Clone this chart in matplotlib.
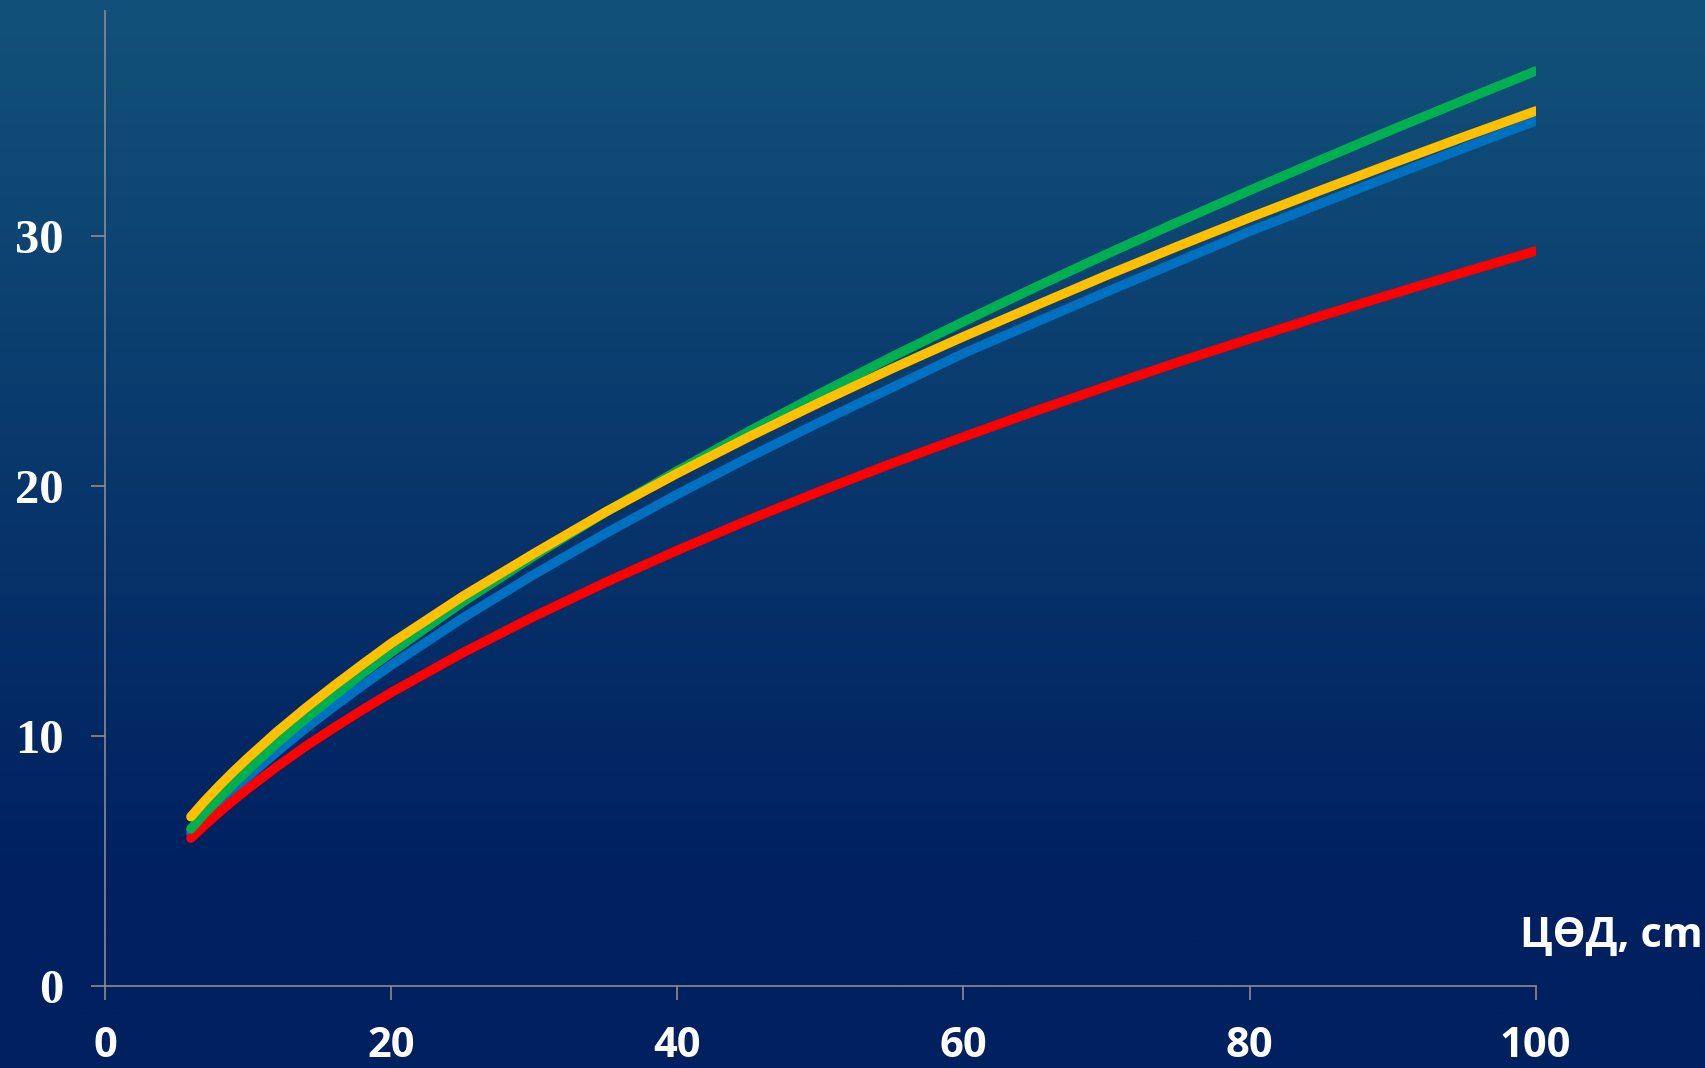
import numpy as np
import matplotlib
matplotlib.use("Agg")
import matplotlib.pyplot as plt

# values
x = [6, 7, 8, 9, 10, 12, 14, 16, 18, 20, 25, 30, 35, 40, 45, 50,
     55, 60, 65, 70, 75, 80, 85, 90, 95, 100]
green = [6.27, 6.91, 7.51, 8.09, 8.64, 9.69, 10.67, 11.60, 12.49, 13.34, 15.35, 17.20, 18.95,
         20.60, 22.18, 23.70, 25.16, 26.57, 27.94, 29.27, 30.56, 31.82, 33.05, 34.26, 35.44, 36.6]
yellow = [6.76, 7.41, 8.01, 8.58, 9.12, 10.15, 11.10, 12.00, 12.86, 13.70, 15.58, 17.30, 18.96,
          20.50, 21.96, 23.35, 24.69, 25.97, 27.20, 28.42, 29.59, 30.73, 31.83, 32.91, 33.97, 35.0]
blue = [6.10, 6.71, 7.28, 7.83, 8.36, 9.35, 10.29, 11.17, 12.01, 12.82, 14.71, 16.46, 18.10,
        19.66, 21.14, 22.56, 23.93, 25.30, 26.53, 27.76, 28.97, 30.18, 31.30, 32.42, 33.52, 34.6]
red = [5.90, 6.44, 6.95, 7.43, 7.89, 8.76, 9.57, 10.32, 11.04, 11.73, 13.32, 14.78, 16.14,
       17.42, 18.64, 19.79, 20.90, 21.96, 22.99, 23.98, 24.95, 25.88, 26.80, 27.68, 28.55, 29.4]

xticks = [0, 20, 40, 60, 80, 100]
yticks = [0, 10, 20, 30]
xlabel = "ЦӨД, cm"

W, H = 1706, 1068
fig = plt.figure(figsize=(W / 100, H / 100), dpi=100)

# gradient background
bg = fig.add_axes([0, 0, 1, 1])
bg.axis("off")
top = np.array([18, 82, 122]) / 255
bot = np.array([0, 32, 96]) / 255
t = np.clip(np.linspace(0, 1, 400) / 0.82, 0, 1)[:, None]
grad = top * (1 - t) + bot * t
bg.imshow(grad[:, None, :], aspect="auto", extent=[0, 1, 0, 1])
bg.set_xlim(0, 1)
bg.set_ylim(0, 1)

ax = fig.add_axes([105 / W, 1 - 985.7 / H, (1535.7 - 105) / W, (985.7 - 11) / H])
ax.patch.set_alpha(0)

lw = 6.8
ax.plot(x, blue, color="#0070C0", lw=lw, solid_capstyle="round", solid_joinstyle="round")
ax.plot(x, red, color="#FF0000", lw=lw, solid_capstyle="round", solid_joinstyle="round")
ax.plot(x, green, color="#00B050", lw=lw, solid_capstyle="round", solid_joinstyle="round")
ax.plot(x, yellow, color="#FFC000", lw=lw, solid_capstyle="round", solid_joinstyle="round")

ax.set_xlim(0, 100)
ax.set_ylim(0, 39)
ax.set_xticks(xticks)
ax.set_yticks(yticks)
for s in ["top", "right"]:
    ax.spines[s].set_visible(False)
for s in ["left", "bottom"]:
    ax.spines[s].set_color("#8c8c8c")
    ax.spines[s].set_linewidth(1.2)
ax.tick_params(axis="both", direction="out", length=10, width=1.2, color="#8c8c8c")
ax.tick_params(axis="y", pad=20)
ax.tick_params(axis="x", pad=19)

for lab in ax.get_yticklabels():
    lab.set_fontfamily(["Liberation Serif", "DejaVu Serif"])
    lab.set_fontweight("bold")
    lab.set_fontsize(35)
    lab.set_color("white")
for lab in ax.get_xticklabels():
    lab.set_fontfamily(["Open Sans", "DejaVu Sans"])
    lab.set_fontweight("bold")
    lab.set_fontsize(30)
    lab.set_color("white")

fig.text(1611 / W, 1 - 947 / H, xlabel, ha="center", va="baseline",
         color="white", fontsize=30, fontweight="bold",
         family=["Open Sans", "DejaVu Sans"])

fig.savefig("out.png", dpi=100)
